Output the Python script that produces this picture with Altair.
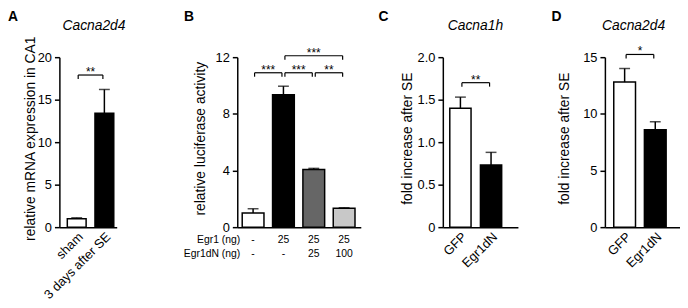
import altair as alt
import pandas as pd

FONT = "Liberation Sans"
H = 172          # plot height shared by the four panels
TOP = 48         # room above each plot (letters and gene names)

# ---------------- data ----------------
A_CATS = ["sham", "3 days after SE"]
A_MEAN = [1.0, 13.4]
A_UPPER = [1.1, 16.2]
A_FILL = ["#ffffff", "#000000"]
A_TICKS = [0, 5, 10, 15, 20]
A_BRACKETS = [["sham", "3 days after SE", 17.9, "**"]]

B_CATS = ["ctrl", "Egr1", "Egr1+dN25", "Egr1+dN100"]
B_MEAN = [1.0, 9.35, 4.07, 1.33]
B_UPPER = [1.3, 9.95, 4.15, 1.37]
B_FILL = ["#ffffff", "#000000", "#666666", "#c8c8c8"]
B_TICKS = [0, 4, 8, 12]
B_ROW_LABELS = ["Egr1 (ng)", "Egr1dN (ng)"]
B_EGR1 = ["-", "25", "25", "25"]
B_EGR1DN = ["-", "-", "25", "100"]
B_BRACKETS = [
    ["ctrl", "Egr1", 10.9, "***"],
    ["Egr1", "Egr1+dN25", 10.9, "***"],
    ["Egr1+dN25", "Egr1+dN100", 10.9, "**"],
    ["Egr1", "Egr1+dN100", 12.1, "***"],
]

C_CATS = ["GFP", "Egr1dN"]
C_MEAN = [1.4, 0.73]
C_UPPER = [1.53, 0.88]
C_FILL = ["#ffffff", "#000000"]
C_TICKS = [0, 0.5, 1.0, 1.5, 2.0]
C_BRACKETS = [["GFP", "Egr1dN", 1.70, "**"]]

D_CATS = ["GFP", "Egr1dN"]
D_MEAN = [12.8, 8.6]
D_UPPER = [14.0, 9.3]
D_FILL = ["#ffffff", "#000000"]
D_TICKS = [0, 5, 10, 15]
D_BRACKETS = [["GFP", "Egr1dN", 15.24, "*"]]


def panel(letter, gene, cats, mean, upper, fills, ticks, ytitle, brackets,
          W, left, right, pi, po, al, letter_x, gene_x, title_x,
          xlabels=True, label_expr=None, rows=None):
    n = len(cats)
    step = W / (n - pi + 2 * po)
    df = pd.DataFrame({"cat": cats, "mean": mean, "upper": upper})
    xs = alt.Scale(domain=cats, paddingInner=pi, paddingOuter=po, align=al)
    ys = alt.Scale(domain=[0, ticks[-1]], nice=False)

    if xlabels:
        xaxis = alt.Axis(labelAngle=-45, ticks=False, domainColor="black",
                         domainWidth=1.5, labelFont=FONT, labelFontSize=13,
                         labelColor="black", labelPadding=3, grid=False)
    else:
        xaxis = alt.Axis(labels=False, ticks=False, domainColor="black",
                         domainWidth=1.5, grid=False)
    ykw = dict(values=ticks, domainColor="black", domainWidth=1.5,
               tickColor="black", tickWidth=1.5, tickSize=5, labelFont=FONT,
               labelFontSize=13, labelColor="black", labelPadding=3, grid=False,
               titleFont=FONT, titleFontSize=14, titleFontWeight="normal",
               titleColor="black", titleX=title_x, titleY=82, titleBaseline="middle")
    if label_expr:
        ykw["labelExpr"] = label_expr
    yaxis = alt.Axis(**ykw)

    def X(f):
        return alt.X(f, scale=xs, title=None)

    def Y(f):
        return alt.Y(f, scale=ys, title=ytitle)

    bars = alt.Chart(df).mark_bar(stroke="black", strokeWidth=1.5).encode(
        x=alt.X("cat:N", scale=xs, axis=xaxis, title=None),
        y=alt.Y("mean:Q", scale=ys, axis=yaxis, title=ytitle),
        color=alt.Color("cat:N", scale=alt.Scale(domain=cats, range=fills), legend=None),
    )
    err = alt.Chart(df).mark_rule(color="black", strokeWidth=1.5).encode(
        x=X("cat:N"), y=Y("mean:Q"), y2="upper:Q")
    cap = alt.Chart(df).mark_tick(color="black", size=11, thickness=1.5).encode(
        x=X("cat:N"), y=Y("upper:Q"))
    layers = [bars, err, cap]

    br = pd.DataFrame(brackets, columns=["x1", "x2", "y", "label"])
    layers.append(alt.Chart(br).mark_rule(
        color="black", strokeWidth=1.2, xOffset=1.5, x2Offset=-1.5).encode(
        x=X("x1:N"), x2="x2:N", y=Y("y:Q")))
    layers.append(alt.Chart(br).mark_rule(
        color="black", strokeWidth=1.2, y2Offset=4, xOffset=1.5).encode(
        x=X("x1:N"), y=Y("y:Q"), y2="y:Q"))
    layers.append(alt.Chart(br).mark_rule(
        color="black", strokeWidth=1.2, y2Offset=4, xOffset=-1.5).encode(
        x=X("x2:N"), y=Y("y:Q"), y2="y:Q"))
    for i in range(len(br)):
        span = cats.index(br["x2"][i]) - cats.index(br["x1"][i])
        layers.append(alt.Chart(br.iloc[[i]]).mark_text(
            font=FONT, fontSize=12, baseline="alphabetic", dx=span * step / 2, dy=1,
            color="black").encode(x=X("x1:N"), y=Y("y:Q"), text="label:N"))

    if rows is not None:
        labels, vals = rows
        for k, (lab, vv) in enumerate(zip(labels, vals)):
            rdf = pd.DataFrame({"cat": cats, "v": vv})
            layers.append(alt.Chart(rdf).mark_text(
                font=FONT, fontSize=10.5, baseline="middle", color="black").encode(
                x=X("cat:N"), y=alt.value(H + 13 + 14 * k), text="v:N"))
            layers.append(alt.Chart(pd.DataFrame({"t": [lab]})).mark_text(
                font=FONT, fontSize=10.5, baseline="middle", align="right", color="black").encode(
                x=alt.value(3), y=alt.value(H + 13 + 14 * k), text="t:N"))

    layers.append(alt.Chart(pd.DataFrame({"t": [letter]})).mark_text(
        font=FONT, fontSize=14, fontWeight="bold", align="left", baseline="alphabetic",
        color="black").encode(x=alt.value(letter_x), y=alt.value(-TOP + 11), text="t:N"))
    if gene:
        layers.append(alt.Chart(pd.DataFrame({"t": [gene]})).mark_text(
            font=FONT, fontSize=14, fontStyle="italic", align="center", baseline="middle",
            color="black").encode(x=alt.value(gene_x), y=alt.value(-32), text="t:N"))
    # invisible frame fixing the panel's extent for the layout
    layers.append(alt.Chart(pd.DataFrame({"z": [0]})).mark_rule(opacity=0).encode(
        x=alt.value(-left), x2=alt.value(W + right), y=alt.value(-TOP)))

    return alt.layer(*layers).properties(width=W, height=H)


pA = panel("A", "Cacna2d4", A_CATS, A_MEAN, A_UPPER, A_FILL, A_TICKS,
           "relative mRNA expression in CA1", A_BRACKETS,
           W=58, left=52, right=67, pi=0.32, po=0.196, al=0.73,
           letter_x=-52, gene_x=35, title_x=-29)
pB = panel("B", None, B_CATS, B_MEAN, B_UPPER, B_FILL, B_TICKS,
           "relative luciferase activity", B_BRACKETS,
           W=125, left=54, right=18, pi=0.283, po=0.177, al=0.46,
           letter_x=-54, gene_x=0, title_x=-37, xlabels=False,
           rows=(B_ROW_LABELS, [B_EGR1, B_EGR1DN]))
pC = panel("C", "Cacna1h", C_CATS, C_MEAN, C_UPPER, C_FILL, C_TICKS,
           "fold increase after SE", C_BRACKETS,
           W=76, left=65, right=34, pi=0.306, po=0.379, al=0.30,
           letter_x=-65, gene_x=33, title_x=-36,
           label_expr="datum.value == 0 ? '0' : format(datum.value, '.1f')")
pD = panel("D", "Cacna2d4", D_CATS, D_MEAN, D_UPPER, D_FILL, D_TICKS,
           "fold increase after SE", D_BRACKETS,
           W=76, left=54, right=0, pi=0.29, po=0.371, al=0.39,
           letter_x=-54, gene_x=29, title_x=-41)

chart = alt.hconcat(pA, pB, pC, pD, spacing=0).resolve_scale(
    color="independent").properties(padding=0).configure(
    background="white").configure_view(stroke=None)

chart.save("out.html", embed_options={"renderer": "svg", "actions": False})
